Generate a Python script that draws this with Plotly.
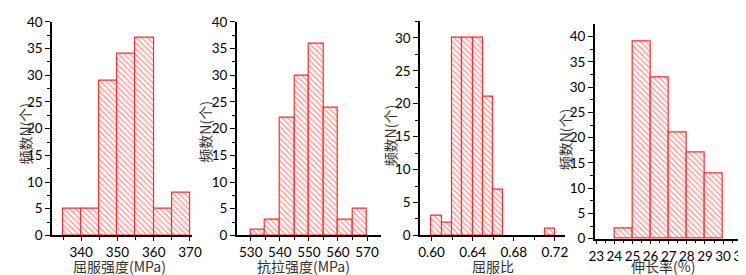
import plotly.graph_objects as go

W, H = 746, 275

# ---- data ----
ys_centers = [337.5, 342.5, 347.5, 352.5, 357.5, 362.5, 367.5]
ys_counts = [5, 5, 29, 34, 37, 5, 8]
ts_centers = [532.5, 537.5, 542.5, 547.5, 552.5, 557.5, 562.5, 567.5]
ts_counts = [1, 3, 22, 30, 36, 24, 3, 5]
yr_centers = [0.605, 0.615, 0.625, 0.635, 0.645, 0.655, 0.665, 0.715]
yr_counts = [3, 2, 30, 30, 30, 21, 7, 1]
el_centers = [24.5, 25.5, 26.5, 27.5, 28.5, 29.5]
el_counts = [2, 39, 32, 21, 17, 13]

x_titles = ["屈服强度(MPa)", "抗拉强度(MPa)", "屈服比", "伸长率(%)"]
y_title = "频数N(个)"

panels = [
    dict(c=ys_centers, v=ys_counts, w=5, xd=(39, 181.7), yd=(233, 6), xr=[332, 370.5], yr=[0, 40.05],
         xt=dict(tick0=340, dtick=10), xm=5, tickfmt=None, yttl=(11, 125), xttl=(108, 265)),
    dict(c=ts_centers, v=ts_counts, w=5, xd=(227.7, 375), yd=(233, 6), xr=[525.2, 574.8], yr=[0, 40.05],
         xt=dict(tick0=530, dtick=10), xm=5, tickfmt=None, yttl=(195, 123), xttl=(296, 265)),
    dict(c=yr_centers, v=yr_counts, w=0.01, xd=(415, 563.3), yd=(233, 5), xr=[0.5889, 0.730], yr=[0, 32.6],
         xt=dict(tick0=0.60, dtick=0.04), xm=0.02, tickfmt=".2f", yttl=(384, 127), xttl=(489, 265)),
    dict(c=el_centers, v=el_counts, w=1, xd=(593.5, 745), yd=(236.5, 9), xr=[22.92, 31.1], yr=[0, 42.4],
         xt=dict(tick0=23, dtick=1), xm=0.5, tickfmt=None, yttl=(563, 131), xttl=(663, 265)),
]

RED = "rgb(255,45,45)"
tickfont = dict(family="Lato, 'Open Sans', sans-serif", size=13.5, color="#000")
ttlfont = dict(family="'Noto Sans CJK SC', sans-serif", size=14, color="#333")

fig = go.Figure()
layout = dict(width=W, height=H, margin=dict(l=0, r=0, t=0, b=0),
              plot_bgcolor="white", paper_bgcolor="white", showlegend=False,
              bargap=0, annotations=[])

for i, p in enumerate(panels):
    n = i + 1
    xa = "x" if n == 1 else f"x{n}"
    ya = "y" if n == 1 else f"y{n}"
    fig.add_trace(go.Bar(
        x=p["c"], y=p["v"], width=p["w"], xaxis=xa, yaxis=ya,
        marker=dict(color="white", line=dict(color=RED, width=1.2),
                    pattern=dict(shape="\\", fgcolor=RED, bgcolor="white", size=4, solidity=0.35)),
        hoverinfo="skip"))
    xk = "xaxis" if n == 1 else f"xaxis{n}"
    yk = "yaxis" if n == 1 else f"yaxis{n}"
    layout[xk] = dict(domain=[p["xd"][0] / W, p["xd"][1] / W], range=p["xr"], anchor=ya,
                      showline=True, linecolor="black", linewidth=1.5, showgrid=False, zeroline=False,
                      ticks="outside", ticklen=4, tickwidth=1.3, tickcolor="black",
                      tickmode="linear", tick0=p["xt"]["tick0"], dtick=p["xt"]["dtick"],
                      tickformat=p["tickfmt"], tickfont=tickfont, tickangle=0,
                      ticklabeloverflow="allow",
                      minor=dict(dtick=p["xm"], tick0=p["xt"]["tick0"], ticks="outside", ticklen=3,
                                 tickwidth=1.2, tickcolor="black", showgrid=False),
                      fixedrange=True)
    layout[yk] = dict(domain=[1 - p["yd"][0] / H, 1 - p["yd"][1] / H], range=p["yr"], anchor=xa,
                      showline=True, linecolor="black", linewidth=1.5, showgrid=False, zeroline=False,
                      ticks="outside", ticklen=5, tickwidth=1.3, tickcolor="black",
                      tickmode="linear", tick0=0, dtick=5, tickfont=tickfont,
                      ticklabeloverflow="allow",
                      minor=dict(dtick=2.5, ticks="outside", ticklen=3, tickwidth=1.2,
                                 tickcolor="black", showgrid=False),
                      fixedrange=True)
    layout["annotations"].append(dict(
        text=y_title, textangle=-90, xref="paper", yref="paper",
        x=p["yttl"][0] / W, y=1 - p["yttl"][1] / H, xanchor="center", yanchor="middle",
        showarrow=False, font=ttlfont))
    layout["annotations"].append(dict(
        text=x_titles[i], xref="paper", yref="paper",
        x=p["xttl"][0] / W, y=1 - p["xttl"][1] / H, xanchor="center", yanchor="middle",
        showarrow=False, font=ttlfont))

fig.update_layout(**layout)
fig.write_html("out.html")
